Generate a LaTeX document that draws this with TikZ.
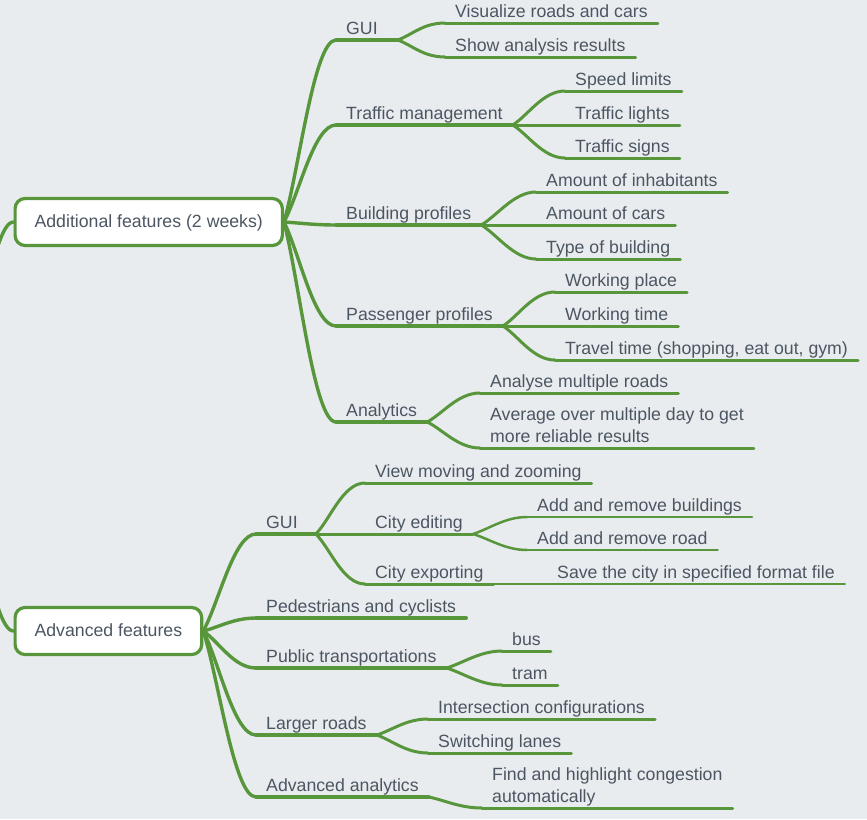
\documentclass[tikz,border=0pt]{standalone}
\usepackage{fontspec}
\setmainfont{Liberation Sans}
\usetikzlibrary{calc,positioning}
\definecolor{mapgreen}{RGB}{88,150,60}
\definecolor{maptext}{RGB}{76,86,98}
\definecolor{mapbg}{RGB}{233,236,239}
\tikzset{
  mapfont/.style={font=\fontsize{17.7}{22}\selectfont},
  topic/.style={mapfont, text=maptext, inner sep=0pt, anchor=base west},
  mainbox/.style={mapfont, text=maptext, draw=mapgreen, fill=white, line width=3.2pt,
    rounded corners=10pt, minimum height=47pt, inner xsep=19.5pt, anchor=west,
    text height=13pt, text depth=2.5pt},
  lvA/.style={draw=mapgreen, line width=3.4pt, line cap=round},
  lvB/.style={draw=mapgreen, line width=3pt, line cap=round},
  lvC/.style={draw=mapgreen, line width=2.5pt, line cap=round}
}
% [right pad]{style}{name}{text x}{underline y}{text}
\newcommand{\topic}[6][10]{%
  \node[topic] (#3) at (#4,#5-6) {#6};
  \coordinate (#3L) at (#4-10,#5);
  \coordinate (#3R) at ($(#3.base east)+(#1,6)$);
  \draw[#2] (#3L) -- (#3R);
}
\newcommand{\branch}[3]{\draw[#1] (#2) .. controls ($(#2)!0.3!(#3)$) and ($(#3)+(-22,0)$) .. (#3);}
\newcommand{\twolines}[2]{\begin{tabular}[b]{@{}l@{}}#1\\#2\end{tabular}}

\begin{document}
\begin{tikzpicture}[x=1pt,y=-1pt]
  \fill[mapbg] (0,0) rectangle (867,819);
  \clip (0,0) rectangle (867,819);
  \coordinate (root) at (-40,427);

  \node[mainbox] (boxA) at (13.5,222) {Additional features (2 weeks)};
  \node[mainbox] (boxB) at (13.5,631) {Advanced features};
  \branch{lvA}{root}{boxA.west}
  \branch{lvA}{root}{boxB.west}

  % additional features
  \topic[20]{lvA}{guiA}{346}{40}{GUI}
  \topic{lvA}{traffic}{346}{125}{Traffic management}
  \topic{lvA}{building}{346}{225}{Building profiles}
  \topic{lvA}{passenger}{346}{326}{Passenger profiles}
  \topic{lvA}{analytics}{346}{422}{Analytics}
  \foreach \n in {guiA,traffic,building,passenger,analytics}
    \branch{lvA}{boxA.east}{\n L};

  \topic{lvB}{vis}{455}{23}{Visualize roads and cars}
  \topic{lvB}{show}{455}{57}{Show analysis results}
  \topic{lvB}{speed}{575}{91}{Speed limits}
  \topic{lvB}{lights}{575}{125}{Traffic lights}
  \topic{lvB}{signs}{575}{158}{Traffic signs}
  \topic{lvB}{inhab}{546}{192}{Amount of inhabitants}
  \topic{lvB}{cars}{546}{225}{Amount of cars}
  \topic{lvB}{type}{546}{259}{Type of building}
  \topic{lvB}{wplace}{565}{292}{Working place}
  \topic{lvB}{wtime}{565}{326}{Working time}
  \topic{lvB}{travel}{565}{360}{Travel time (shopping, eat out, gym)}
  \topic{lvB}{analyse}{490}{393}{Analyse multiple roads}
  \topic{lvB}{average}{490}{448}{\twolines{Average over multiple day to get}{more reliable results}}
  \foreach \p/\c in {guiA/vis,guiA/show,traffic/speed,traffic/lights,traffic/signs,
      building/inhab,building/cars,building/type,passenger/wplace,passenger/wtime,
      passenger/travel,analytics/analyse,analytics/average}
    \branch{lvB}{\p R}{\c L};

  % advanced features
  \topic[18]{lvA}{guiB}{266}{534}{GUI}
  \topic{lvA}{pedest}{266}{618}{Pedestrians and cyclists}
  \topic{lvA}{public}{266}{668}{Public transportations}
  \topic{lvA}{larger}{266}{735}{Larger roads}
  \topic{lvA}{advan}{266}{797}{Advanced analytics}
  \foreach \n in {guiB,pedest,public,larger,advan}
    \branch{lvA}{boxB.east}{\n L};

  \topic{lvB}{view}{375}{483}{View moving and zooming}
  \topic{lvB}{editing}{375}{534}{City editing}
  \topic{lvB}{exporting}{375}{584}{City exporting}
  \topic{lvB}{bus}{512}{651}{bus}
  \topic{lvB}{tram}{512}{685}{tram}
  \topic{lvB}{inter}{438}{719}{Intersection configurations}
  \topic{lvB}{switch}{438}{753}{Switching lanes}
  \topic{lvB}{find}{492}{808}{\twolines{Find and highlight congestion}{automatically}}
  \foreach \p/\c in {guiB/view,guiB/editing,guiB/exporting,public/bus,public/tram,
      larger/inter,larger/switch,advan/find}
    \branch{lvB}{\p R}{\c L};

  \topic{lvC}{addb}{537}{517}{Add and remove buildings}
  \topic{lvC}{addr}{537}{550}{Add and remove road}
  \topic{lvC}{save}{557}{584}{Save the city in specified format file}
  \foreach \p/\c in {editing/addb,editing/addr,exporting/save}
    \branch{lvC}{\p R}{\c L};
\end{tikzpicture}
\end{document}
